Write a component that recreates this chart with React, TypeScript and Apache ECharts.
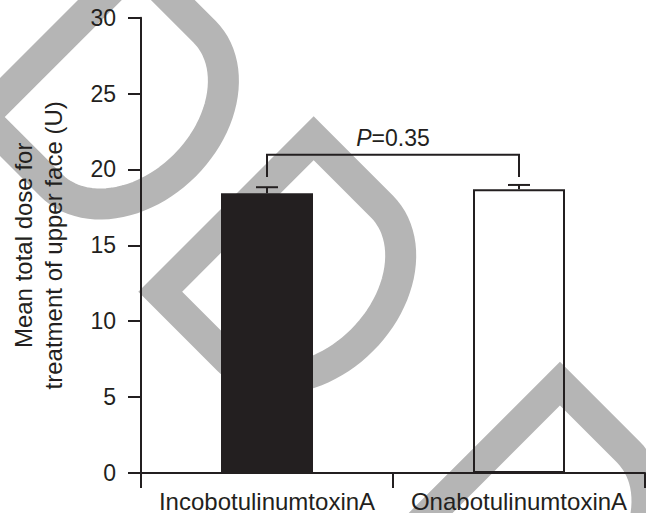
import React, { useEffect, useRef } from "react";
import * as echarts from "echarts";

// Groups on the x axis
const categories = ["IncobotulinumtoxinA", "OnabotulinumtoxinA"];
// Mean total dose (U) and its standard error for each group
const meanDose = [18.43, 18.7];
const semDose = [0.4, 0.28];
// y axis range and step
const yMin = 0;
const yMax = 30;
const yStep = 5;
// Significance bracket between the two groups: [from, to, top value, foot value]
const bracketPairs = [[0, 1, 20.97, 19.5]];
const bracketLabels = ["0.35"];

const INK = "#231f20";
const FONT = "'Liberation Sans', Arial, Helvetica, sans-serif";
const SHADE = "#b5b5b5";

// Background ornament: a thick outlined "D" turned 45 degrees.
// (x0, y0) is the outer left corner of its straight spine.
function dShape(x0: number, y0: number) {
  const S = 248; // spine length
  const w = 31; // band width
  const h = w / 2;
  const c = 112; // straight part of the bars
  const b = 96; // depth of the bowl
  const pts: number[][] = [];
  const k = Math.SQRT1_2;
  const put = (u: number, v: number) => pts.push([x0 + k * (u + v), y0 + k * (v - u)]);
  put(h, h);
  put(S - h, h);
  put(S - h, c);
  const au = S / 2 - h;
  const av = b - h;
  const n = 48;
  for (let i = 1; i < n; i++) {
    const t = (Math.PI * i) / n;
    put(S / 2 + au * Math.cos(t), c + av * Math.sin(t));
  }
  put(h, c);
  return {
    type: "polygon",
    z: 0,
    silent: true,
    shape: { points: pts },
    style: { fill: "none", stroke: SHADE, lineWidth: w, lineJoin: "miter" },
  };
}

export default function App() {
  const ref = useRef<HTMLDivElement>(null);

  useEffect(() => {
    document.body.style.margin = "0";
    if (!ref.current) return;
    const chart = echarts.init(ref.current, null, { renderer: "svg" });

    const option: any = {
      animation: false,
      backgroundColor: "#ffffff",
      graphic: [dShape(-39, 117), dShape(138.3, 291.7), dShape(384.6, 537.1)],
      grid: { left: 135, right: 1, top: 17.7, bottom: 39.7, containLabel: false },
      xAxis: {
        type: "category",
        data: categories,
        z: 6,
        boundaryGap: true,
        axisLine: { show: true, lineStyle: { color: INK, width: 2 } },
        axisTick: { show: true, inside: false, length: 15, lineStyle: { color: INK, width: 2 } },
        axisLabel: { color: INK, fontSize: 24, fontFamily: FONT, margin: 16, interval: 0 },
        splitLine: { show: false },
      },
      yAxis: {
        type: "value",
        min: yMin,
        max: yMax,
        interval: yStep,
        z: 6,
        name: "Mean total dose for\ntreatment of upper face (U)",
        nameLocation: "middle",
        nameRotate: 90,
        nameGap: 73,
        nameTextStyle: { color: INK, fontSize: 24, fontFamily: FONT, lineHeight: 30 },
        axisLine: { show: true, lineStyle: { color: INK, width: 2 } },
        axisTick: { show: true, inside: false, length: 13, lineStyle: { color: INK, width: 2 } },
        axisLabel: { color: INK, fontSize: 23, fontFamily: FONT, margin: 25 },
        splitLine: { show: false },
      },
      series: [
        {
          type: "bar",
          z: 3,
          barWidth: 92,
          data: meanDose.map((v, i) => ({
            value: v,
            itemStyle:
              i === 0
                ? { color: INK }
                : { color: "rgba(255,255,255,0)", borderColor: INK, borderWidth: 2 },
          })),
        },
        {
          type: "custom",
          z: 4,
          data: meanDose.map((m, i) => [i, m, m + semDose[i]]),
          encode: { x: 0, y: 1 },
          renderItem: (params: any, api: any) => {
            const base = api.coord([api.value(0), api.value(1)]);
            const top = api.coord([api.value(0), api.value(2)]);
            const lineStyle = { stroke: INK, lineWidth: 2 };
            return {
              type: "group",
              children: [
                { type: "line", shape: { x1: base[0], y1: base[1], x2: top[0], y2: top[1] }, style: lineStyle },
                { type: "line", shape: { x1: top[0] - 11, y1: top[1], x2: top[0] + 11, y2: top[1] }, style: lineStyle },
              ],
            };
          },
        },
        {
          type: "custom",
          z: 4,
          data: bracketPairs,
          encode: { x: 0, y: 2 },
          renderItem: (params: any, api: any) => {
            const a = api.value(0);
            const b = api.value(1);
            const top = api.value(2);
            const foot = api.value(3);
            const p1 = api.coord([a, foot]);
            const p2 = api.coord([a, top]);
            const p3 = api.coord([b, top]);
            const p4 = api.coord([b, foot]);
            return {
              type: "group",
              children: [
                {
                  type: "polyline",
                  shape: { points: [p1, p2, p3, p4] },
                  style: { stroke: INK, lineWidth: 2, fill: "none", lineJoin: "miter" },
                },
                {
                  type: "text",
                  x: (p2[0] + p3[0]) / 2,
                  y: p2[1] - 17,
                  style: {
                    text: "{i|P}=" + bracketLabels[params.dataIndex],
                    fill: INK,
                    fontSize: 23,
                    fontFamily: FONT,
                    align: "center",
                    verticalAlign: "middle",
                    rich: { i: { fontStyle: "italic", fontSize: 23, fontFamily: FONT, fill: INK } },
                  },
                },
              ],
            };
          },
        },
      ],
    };

    chart.setOption(option);
    return () => chart.dispose();
  }, []);

  return <div ref={ref} style={{ width: 646, height: 513 }} />;
}
